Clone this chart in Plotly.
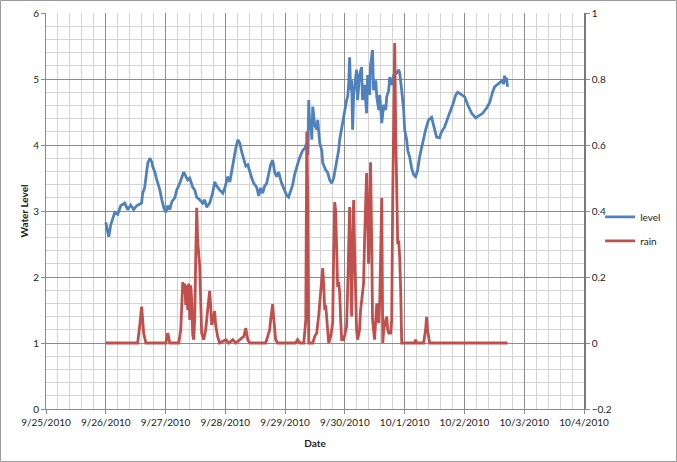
import pandas as pd
import plotly.graph_objects as go

# ---- data ----
# hours after 2010-09-26 00:00, water level (left axis)
level_hours = [0, 0.6, 1.2, 2.0, 2.8, 3.6, 4.8, 6.0, 7.6, 8.8, 10.0, 11.2, 12.4, 13.6, 14.4, 14.8,
               15.6, 16.5, 16.9, 17.7, 18.5, 18.9, 19.7, 20.5, 21.7, 22.5, 23.3, 24.1, 24.9, 25.7,
               26.5, 27.7, 28.5, 29.7, 30.5, 31.3, 32.1, 32.9, 33.7, 34.9, 35.7, 36.5, 37.7, 38.9,
               39.7, 40.5, 41.7, 42.9, 43.7, 44.5, 45.7, 47.0, 47.8, 49.0, 49.8, 50.6, 51.4, 52.2,
               53.0, 53.8, 54.6, 55.4, 56.2, 57.0, 57.8, 58.6, 59.4, 60.6, 61.4, 62.2, 63.0, 63.8,
               64.6, 65.4, 66.2, 67.0, 67.8, 68.6, 69.4, 70.6, 71.4, 72.6, 73.4, 74.2, 75.0, 75.8,
               76.6, 77.5, 78.3, 79.1, 79.9, 80.7, 81.1, 81.5, 81.9, 82.3, 82.7, 83.1, 83.9, 84.7,
               85.1, 85.9, 86.7, 87.1, 88.3, 89.1, 89.9, 90.7, 91.5, 92.7, 93.5, 93.9, 94.7, 95.1,
               95.9, 96.7, 97.1, 97.5, 97.9, 98.3, 98.7, 99.1, 99.5, 100.3, 100.7, 101.1, 101.9,
               102.7, 103.1, 103.9, 104.7, 105.1, 105.9, 106.3, 107.1, 107.5, 108.4, 108.8, 109.6,
               110.0, 110.8, 111.6, 112.4, 112.8, 113.6, 114.0, 114.8, 115.6, 116.8, 117.6, 118.0,
               118.8, 119.6, 120.0, 120.8, 121.2, 122.0, 122.8, 123.6, 124.4, 125.2, 126.0, 127.2,
               128.4, 129.6, 130.8, 131.6, 132.8, 134.0, 134.8, 136.0, 137.2, 138.0, 139.3, 140.5,
               141.3, 142.5, 144.1, 145.3, 146.9, 148.5, 149.7, 151.3, 152.9, 154.1, 155.3, 156.1,
               157.3, 158.5, 159.3, 159.7, 160.1, 160.5, 160.9, 161.3]
level_values = [2.83, 2.71, 2.61, 2.79, 2.89, 2.98, 2.95, 3.08, 3.12, 3.02, 3.09, 3.02, 3.08, 3.11, 3.12, 3.27,
                3.35, 3.62, 3.73, 3.80, 3.74, 3.67, 3.59, 3.47, 3.32, 3.17, 3.05, 2.98, 3.08, 3.02,
                3.14, 3.20, 3.32, 3.42, 3.52, 3.59, 3.53, 3.47, 3.50, 3.36, 3.32, 3.21, 3.17, 3.12,
                3.17, 3.06, 3.12, 3.27, 3.44, 3.38, 3.32, 3.27, 3.35, 3.52, 3.44, 3.62, 3.80, 3.95,
                4.08, 4.03, 3.89, 3.80, 3.68, 3.70, 3.58, 3.50, 3.42, 3.36, 3.23, 3.35, 3.27, 3.38,
                3.42, 3.55, 3.70, 3.77, 3.59, 3.52, 3.59, 3.42, 3.35, 3.24, 3.21, 3.29, 3.39, 3.55,
                3.67, 3.77, 3.85, 3.92, 3.95, 4.03, 3.85, 4.68, 4.23, 4.41, 4.08, 4.58, 4.30, 4.23,
                4.38, 4.03, 3.92, 3.73, 3.62, 3.58, 3.47, 3.42, 3.50, 3.73, 3.92, 4.08, 4.26, 4.38,
                4.53, 4.68, 4.73, 4.91, 5.33, 4.83, 4.98, 4.23, 4.76, 4.98, 5.14, 4.68, 5.06,
                5.18, 4.68, 4.91, 4.48, 5.06, 4.76, 5.21, 5.44, 4.83, 4.98, 4.73, 4.53,
                4.76, 4.33, 4.61, 4.53, 4.73, 4.83, 5.03, 4.91, 5.06, 5.09, 5.14, 5.09,
                4.83, 4.53, 4.23, 4.08, 3.92, 3.82, 3.65, 3.55, 3.52, 3.62, 3.82, 4.03,
                4.23, 4.38, 4.42, 4.30, 4.12, 4.11, 4.20, 4.27, 4.38, 4.48, 4.61, 4.76,
                4.80, 4.77, 4.73, 4.61, 4.48, 4.41, 4.44, 4.48, 4.56, 4.64, 4.80, 4.88,
                4.92, 4.95, 4.98, 4.92, 5.05, 4.95, 5.02, 4.88]

# hours after 2010-09-26 00:00, rain (right axis)
rain_hours = [0, 12.8, 13.6, 14.4, 15.2, 16.1, 24.1, 24.9, 25.7, 29.3, 30.1, 30.9, 31.3, 31.7, 32.1,
              32.5, 32.9, 33.3, 33.7, 34.1, 34.5, 34.9, 35.3, 35.7, 36.1, 36.5, 36.9, 37.3, 37.7,
              38.1, 38.5, 39.3, 40.1, 40.9, 41.7, 42.1, 42.5, 42.9, 43.7, 44.1, 44.9, 45.7, 48.2,
              49.4, 51.0, 52.2, 53.8, 55.4, 56.2, 57.0, 57.8, 64.2, 65.0, 65.8, 66.2, 67.0, 67.4,
              68.2, 69.0, 76.2, 77.0, 77.9, 79.5, 80.3, 80.7, 81.1, 81.5, 83.1, 83.9, 84.7, 85.5,
              85.9, 86.7, 87.1, 87.5, 87.9, 88.3, 88.7, 89.5, 90.3, 91.1, 91.5, 91.9, 92.3, 92.7,
              93.1, 93.5, 93.9, 94.3, 94.7, 95.5, 96.3, 96.7, 97.1, 97.5, 97.9, 98.3, 98.7, 99.1,
              99.5, 99.9, 100.3, 100.7, 101.1, 101.9, 102.3, 102.7, 103.1, 103.5, 103.9, 104.3,
              104.7, 105.1, 105.5, 105.9, 106.3, 106.7, 107.1, 107.5, 107.9, 108.4, 108.8, 109.2,
              109.6, 110.0, 110.4, 110.8, 111.2, 111.6, 112.4, 112.8, 113.2, 113.6, 114.4, 114.8,
              115.2, 115.6, 116.0, 116.4, 116.8, 117.2, 117.6, 118.0, 118.4, 118.8, 119.6, 124.0,
              124.4, 124.8, 127.6, 128.4, 128.8, 129.2, 130.0, 161.3]
rain_values = [0, 0, 0.05, 0.11, 0.03, 0, 0, 0.03, 0, 0, 0.04, 0.185, 0.16, 0.18, 0.115,
               0.175, 0.10, 0.18, 0.07, 0.175, 0.13, 0.025, 0.01, 0.07, 0.25, 0.41, 0.31, 0.26, 0.235,
               0.13, 0.03, 0.01, 0.04, 0.10, 0.158, 0.115, 0.055, 0.064, 0.097, 0.055, 0.02, 0, 0.01,
               0, 0.01, 0, 0.01, 0.02, 0.045, 0.01, 0, 0, 0.02, 0.04, 0.07, 0.118, 0.076,
               0.01, 0, 0, 0.01, 0, 0, 0.07, 0.64, 0.43, 0, 0, 0.02, 0.03, 0.085,
               0.12, 0.19, 0.227, 0.175, 0.10, 0.115, 0.07, 0, 0.02, 0.06, 0.28, 0.427, 0.40, 0.28,
               0.17, 0.185, 0.155, 0.07, 0.01, 0.01, 0.04, 0.05, 0.16, 0.34, 0.412, 0.25, 0.08, 0.28,
               0.433, 0.28, 0.12, 0.04, 0.01, 0.04, 0.10, 0.13, 0.16, 0.18, 0.31, 0.433,
               0.515, 0.40, 0.24, 0.37, 0.548, 0.34, 0.07, 0.04, 0.01, 0.07, 0.12, 0.085,
               0.06, 0.13, 0.31, 0.44, 0, 0.04, 0.07, 0.08, 0.04, 0.03, 0.03, 0.07,
               0.44, 0.74, 0.909, 0.645, 0.388, 0.30, 0.31, 0.26, 0.16, 0, 0, 0,
               0.01, 0, 0, 0.04, 0.079, 0.04, 0, 0]

start = pd.Timestamp("2010-09-26 00:00")
level_dates = start + pd.to_timedelta(level_hours, unit="h")
rain_dates = start + pd.to_timedelta(rain_hours, unit="h")

FONT = "Lato"
TXT = "#222222"
MAJOR = "#8c8c8c"
MINOR = "#d4d4d4"
DAY_MS = 86400000

fig = go.Figure()
fig.add_trace(go.Scatter(x=level_dates, y=level_values, name="level", mode="lines",
                         line=dict(color="#4F81BD", width=2.8), legendgroup="a"))
fig.add_trace(go.Scatter(x=rain_dates, y=rain_values, name="rain", mode="lines", yaxis="y2",
                         line=dict(color="#C0504D", width=2.8), legendgroup="b"))

fig.update_layout(
    width=677, height=462,
    margin=dict(l=46, r=93, t=13, b=53, autoexpand=False),
    paper_bgcolor="white", plot_bgcolor="white",
    font=dict(family=FONT, size=10, color=TXT),
    showlegend=True,
    legend=dict(x=1.03, y=0.522, xanchor="left", yanchor="top", bgcolor="rgba(0,0,0,0)",
                font=dict(size=10), tracegroupgap=5, itemwidth=30),
    xaxis=dict(
        type="date", range=["2010-09-25", "2010-10-04"],
        tick0="2010-09-25", dtick=DAY_MS, tickformat="%-m/%-d/%Y",
        showgrid=True, gridcolor=MAJOR, gridwidth=1,
        minor=dict(dtick=DAY_MS / 5, tick0="2010-09-25", showgrid=True, gridcolor=MINOR, gridwidth=1),
        showline=True, linecolor=MAJOR, linewidth=1,
        ticks="outside", ticklen=4, tickcolor=MAJOR,
        title=dict(text="<b>Date</b>", font=dict(size=10), standoff=12),
        zeroline=False, automargin=False,
    ),
    yaxis=dict(
        range=[0, 6], dtick=1, tick0=0,
        showgrid=True, gridcolor=MAJOR, gridwidth=1,
        minor=dict(dtick=0.2, tick0=0, showgrid=True, gridcolor=MINOR, gridwidth=1),
        showline=True, linecolor=MAJOR, linewidth=1,
        ticks="outside", ticklen=4, tickcolor=MAJOR,
        title=dict(text="<b>Water Level</b>", font=dict(size=10), standoff=2),
        zeroline=False, automargin=False,
    ),
    yaxis2=dict(
        range=[-0.2, 1], dtick=0.2, tick0=0, overlaying="y", side="right",
        showgrid=False, zeroline=False,
        showline=True, linecolor="#7a7a7a", linewidth=1.5,
        ticks="outside", ticklen=4, tickcolor=MAJOR,
        tickformat="~g", automargin=False,
    ),
    shapes=[dict(type="rect", xref="paper", yref="paper",
                 x0=-0.0846, x1=1.1719, y0=-0.1326, y1=1.0316,
                 line=dict(color="#9a9a9a", width=1), fillcolor="rgba(0,0,0,0)", layer="below")],
)

fig.write_html("out.html", config={"displayModeBar": False},
               post_script="document.body.style.margin='0';")
